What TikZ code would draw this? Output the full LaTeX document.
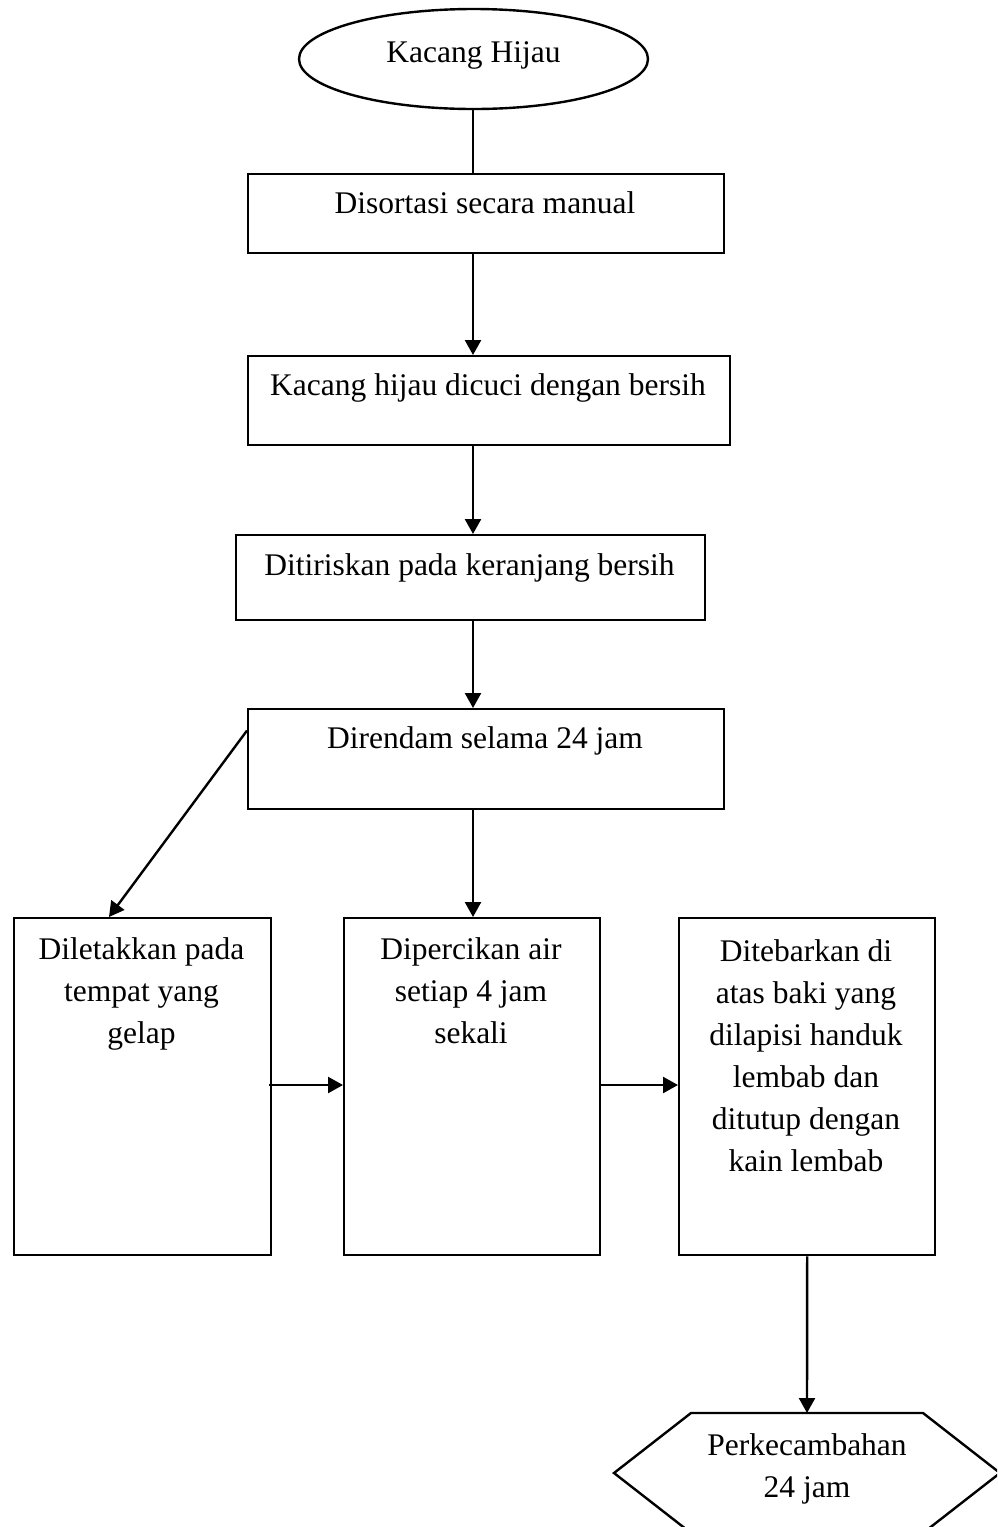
\documentclass[tikz,border=0pt]{standalone}
\usepackage{fontspec}
\setmainfont{Liberation Serif}
\usetikzlibrary{shapes.geometric,arrows.meta,calc}
\tikzset{
  ln/.style={line width=1.2pt, draw=black},
  arr/.style={ln, -{Triangle[length=7.5pt,width=8pt]}},
  stepbox/.style={draw=black, line width=1.2pt, rectangle, inner sep=0pt, anchor=north west},
  txt/.style={font=\fontsize{15.75pt}{21pt}\selectfont, inner sep=0pt, align=center, anchor=base},
}
\begin{document}
\begin{tikzpicture}[x=0.5pt,y=-0.5pt]
\useasboundingbox (0,0) rectangle (997,1527);
\clip (0,0) rectangle (997,1527);
\coordinate (ax) at (473,0);
\coordinate (ay) at (0,1085);
% shapes
\node[draw=black, line width=1.2pt, ellipse, inner sep=0pt, minimum width=174.5pt, minimum height=50pt] (e) at (473.5,59) {};
\node[stepbox, minimum width=238pt, minimum height=39.5pt] (b1) at (247,173) {};
\node[stepbox, minimum width=241pt, minimum height=44.5pt] (b2) at (247,355) {};
\node[stepbox, minimum width=234.5pt, minimum height=42.5pt] (b3) at (235,534) {};
\node[stepbox, minimum width=238pt, minimum height=50pt] (b4) at (247,708) {};
\node[stepbox, minimum width=128.5pt, minimum height=168.5pt] (b5) at (13,917) {};
\node[stepbox, minimum width=128pt, minimum height=168.5pt] (b6) at (343,917) {};
\node[stepbox, minimum width=128pt, minimum height=168.5pt] (b7) at (678,917) {};
\draw[ln] (614,1473) -- (691,1413) -- (923,1413) -- (1000,1473) -- (923,1533) -- (691,1533) -- cycle;
\coordinate (hextop) at (807,1413);
% texts (multi-line nodes: base = baseline of the last line)
\node[txt] (te) at (473.5,62) {Kacang Hijau};
\node[txt] (t1) at (485,213) {Disortasi secara manual};
\node[txt] (t2) at (488,395) {Kacang hijau dicuci dengan bersih};
\node[txt] (t3) at (469.5,575) {Ditiriskan pada keranjang bersih};
\node[txt] (t4) at (485,748) {Direndam selama 24 jam};
\node[txt] (t5) at (141.5,1043) {Diletakkan pada\\tempat yang\\gelap};
\node[txt] (t6) at (471,1043) {Dipercikan air\\setiap 4 jam\\sekali};
\node[txt] (t7) at (806,1171) {Ditebarkan di\\atas baki yang\\dilapisi handuk\\lembab dan\\ditutup dengan\\kain lembab};
\node[txt] (th) at (807,1497) {Perkecambahan\\24 jam};
% connectors
\draw[ln] (e.south -| ax) -- (b1.north -| ax);
\draw[arr] (b1.south -| ax) -- (b2.north -| ax);
\draw[arr] (b2.south -| ax) -- (b3.north -| ax);
\draw[arr] (b3.south -| ax) -- (b4.north -| ax);
\draw[arr] (b4.south -| ax) -- (b6.north -| ax);
\draw[arr] ($(b4.north west)!0.22!(b4.south west)$) -- ($(b5.north west)!0.37!(b5.north east)$);
\draw[arr] ([xshift=-1.5pt]b5.east |- ay) -- (b6.west |- ay);
\draw[arr] (b6.east |- ay) -- (b7.west |- ay);
\draw[arr] (b7.south) -- (hextop);
\end{tikzpicture}
\end{document}
